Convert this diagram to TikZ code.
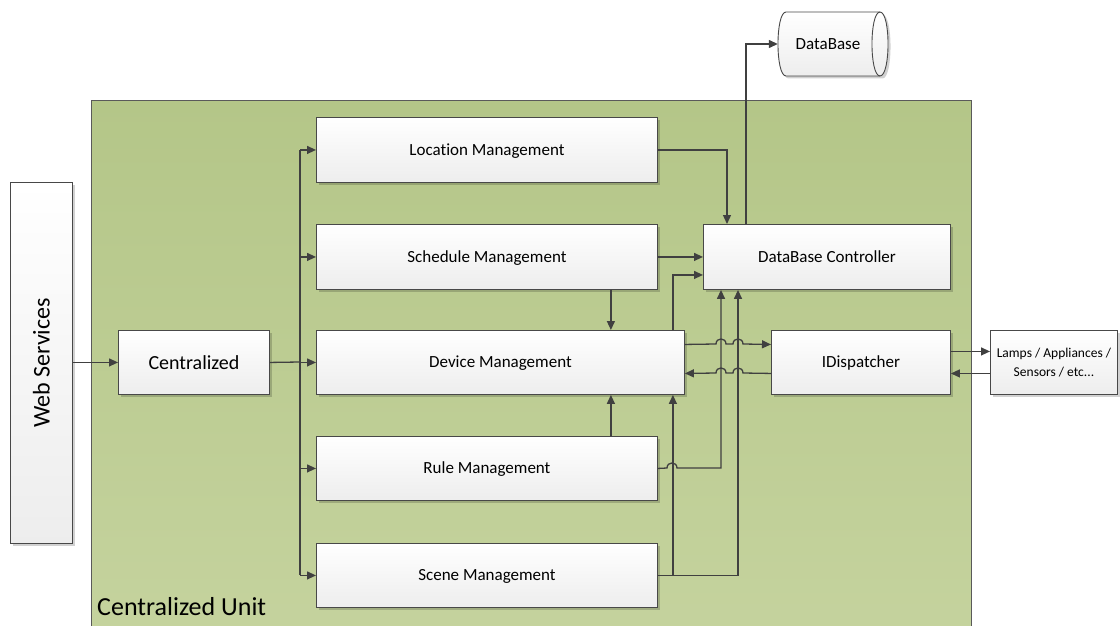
\documentclass[tikz,border=0pt]{standalone}
\usepackage{fontspec}
\setmainfont{Carlito}[Ligatures=NoCommon]
\usetikzlibrary{shadows,arrows.meta}

\definecolor{linegray}{HTML}{404040}
\definecolor{boxline}{HTML}{484848}
\definecolor{unittop}{RGB}{180,198,136}
\definecolor{unitbot}{RGB}{197,211,158}
\definecolor{unitline}{HTML}{5A5A5A}

\begin{document}
\begin{tikzpicture}[x=1pt,y=-1pt,
  box/.style={draw=boxline, line width=0.9pt, top color=white, bottom color=black!7,
    drop shadow={shadow xshift=2.5pt,shadow yshift=-2.5pt,fill=black,opacity=0.18},
    inner sep=0pt, anchor=north west, font=\fontsize{17}{20}\selectfont,
    text height=13.5pt, text depth=2.5pt},
  wire/.style={draw=linegray, line width=1.3pt},
  conn/.style={wire, -{Triangle[length=9pt,width=8pt]}}
]
\useasboundingbox (0,0) rectangle (1120,626);

% the centralized unit container
\node[draw=unitline, line width=0.8pt, top color=unittop, bottom color=unitbot,
  minimum width=880, minimum height=540, anchor=north west, inner sep=0pt] (unit) at (91,100) {};
\node[anchor=base west, font=\fontsize{26}{30}\selectfont, inner sep=0pt] (unitlabel) at (97,615) {Centralized Unit};

% web services (text set sideways)
\node[box, minimum width=62, minimum height=361] (web) at (10,182) {};
\node[rotate=90, font=\fontsize{24}{28}\selectfont] (webtext) at (web.center) {Web Services};

% modules
\node[box, minimum width=151, minimum height=64, font=\fontsize{20}{24}\selectfont,
  text height=15pt, text depth=1.5pt] (cen) at (118,330) {Centralized};
\node[box, minimum width=341, minimum height=65] (loc) at (316,117) {Location Management};
\node[box, minimum width=341, minimum height=65] (sch) at (316,224) {Schedule Management};
\node[box, minimum width=368, minimum height=64] (dev) at (316,330) {Device Management};
\node[box, minimum width=341, minimum height=64] (rul) at (316,436) {Rule Management};
\node[box, minimum width=341, minimum height=64] (scn) at (316,543) {Scene Management};
\node[box, minimum width=247, minimum height=65] (dbc) at (703,224) {DataBase Controller};
\node[box, minimum width=179, minimum height=64] (idp) at (771,330) {IDispatcher};
\node[box, minimum width=127, minimum height=64, align=center, text height=, text depth=,
  font=\fontsize{13.5}{19.5}\selectfont] (lamps) at (990,330) {Lamps / Appliances /\\Sensors / etc...};

% database cylinder
\path[draw=boxline, line width=0.9pt, top color=white, bottom color=black!7,
  drop shadow={shadow xshift=2.5pt,shadow yshift=-2.5pt,fill=black,opacity=0.18}]
  (786,12) -- (880,12) .. controls (890.7,12) and (890.7,76) .. (880,76)
  -- (786,76) .. controls (775.3,76) and (775.3,12) .. (786,12) -- cycle;
\draw[boxline, line width=0.9pt] (880,12) .. controls (869.3,12) and (869.3,76) .. (880,76);
\node[minimum width=100, minimum height=64, inner sep=0pt, font=\fontsize{17}{20}\selectfont,
  text height=13.5pt, text depth=2.5pt] (db) at (828,44) {DataBase};

% web services to centralized, then the distribution bus
\coordinate (bus) at (300,362);
\draw[conn] (web.east |- cen.west) -- (cen.west);
\draw[wire] (cen.east) -- (bus);
\draw[wire] (loc.west -| bus) -- (scn.west -| bus);
\foreach \n in {loc,sch,dev,rul,scn}
  \draw[conn] (\n.west -| bus) -- (\n.west);

% links to the database controller
\draw[conn] (loc.east) -| ([xshift=24pt]dbc.north west);
\draw[conn] (sch.east) -- (dbc.west);
\draw[conn] ([xshift=-12pt]dev.north east) |- ([yshift=-18pt]dbc.west);
\draw[conn] (scn.east) -| ([xshift=35pt]dbc.south west);
\draw[conn] (rul.east) -- (667,468) .. controls +(0,-6.7) and +(0,-6.7) .. (677,468)
  -| ([xshift=18pt]dbc.south west);
\draw[conn] ([xshift=43pt]dbc.north west) |- (db.west);

% links into device management
\draw[conn] ([xshift=-47pt]sch.south east) -- ([xshift=-47pt]sch.south east |- dev.north);
\draw[conn] ([xshift=-47pt]rul.north east) -- ([xshift=-47pt]rul.north east |- dev.south);
\draw[conn] (scn.east) -| ([xshift=-12pt]dev.south east);

% device management <-> dispatcher, hopping over the vertical links
\draw[conn] ([yshift=18pt]dev.east) -- (716,344)
  .. controls +(0,-6.7) and +(0,-6.7) .. (726,344) -- (733,344)
  .. controls +(0,-6.7) and +(0,-6.7) .. (743,344) -- ([yshift=18pt]idp.west);
\draw[conn] ([yshift=-11pt]idp.west) -- (743,373)
  .. controls +(0,-6.7) and +(0,-6.7) .. (733,373) -- (726,373)
  .. controls +(0,-6.7) and +(0,-6.7) .. (716,373) -- ([yshift=-11pt]dev.east);

% dispatcher <-> field devices
\draw[conn] ([yshift=11pt]idp.east) -- ([yshift=11pt]lamps.west);
\draw[conn] ([yshift=-11pt]lamps.west) -- ([yshift=-11pt]idp.east);
\end{tikzpicture}
\end{document}
